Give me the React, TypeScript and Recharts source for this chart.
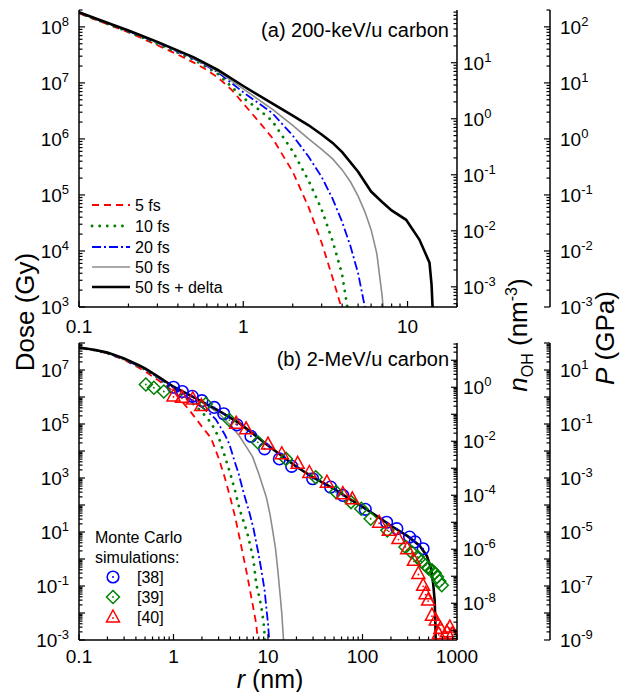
import React from 'react';
import { ComposedChart, Line, Scatter, XAxis, YAxis } from 'recharts';

const FONT = '"Liberation Sans", Arial, Helvetica, sans-serif';

type P = [number, number];

// ---------- conversion factors for the secondary axes ----------
const K_OH = Math.pow(10, -6.36); // n_OH (nm^-3) per Gy
const K_P = 1e-6; // GPa per Gy

// ---------- panel (a): 200-keV/u carbon ----------
const A_X_DOMAIN: [number, number] = [0.1, 20];
const A_Y_DOMAIN: [number, number] = [1e3, 2e8];
const A_5FS: P[] = [[0.1,1.75e8],[0.15,1.1e8],[0.2,8e7],[0.3,4.7e7],[0.4,3.2e7],[0.5,2.3e7],[0.6,1.7e7],[0.7,1.25e7],[0.85,7.5e6],[1,4.3e6],[1.25,2e6],[1.5,1.05e6],[2,2.6e5],[2.5,6e4],[3,1.4e4],[3.5,3.3e3],[3.95,1e3],[4.2,4e2]];
const A_10FS: P[] = [[0.1,1.78e8],[0.15,1.12e8],[0.2,8.2e7],[0.3,5e7],[0.5,2.6e7],[0.7,1.45e7],[1,5.4e6],[1.25,3.3e6],[1.5,2.1e6],[2,6e5],[2.5,1.8e5],[3,5.5e4],[3.5,1.5e4],[4,3.8e3],[4.3,1e3],[4.5,4e2]];
const A_20FS: P[] = [[0.1,1.8e8],[0.2,8.4e7],[0.3,5.2e7],[0.5,2.7e7],[0.7,1.55e7],[1,6.8e6],[1.5,2.9e6],[2,1.15e6],[2.5,4.8e5],[3,2.1e5],[3.5,8.5e4],[4,3.3e4],[4.5,1.2e4],[5,4e3],[5.5,1e3],[5.8,4e2]];
const A_50FS: P[] = [[0.1,1.8e8],[0.2,8.5e7],[0.3,5.3e7],[0.5,2.75e7],[0.7,1.6e7],[1,7.8e6],[1.5,3.4e6],[2,1.75e6],[2.5,1e6],[3,6.5e5],[3.5,4.4e5],[4,2.8e5],[4.5,1.7e5],[5,9.5e4],[5.5,5e4],[6,2.4e4],[6.5,9e3],[7,1.6e3],[7.1,1e3],[7.3,4e2]];
const A_DELTA: P[] = [[0.1,1.82e8],[0.15,1.17e8],[0.2,8.6e7],[0.3,5.4e7],[0.5,2.85e7],[0.7,1.7e7],[1,8.8e6],[1.5,4.3e6],[2,2.6e6],[2.5,1.75e6],[3,1.2e6],[3.5,8.5e5],[4,5.8e5],[5,2.6e5],[6,1.15e5],[7,7.5e4],[8,5.3e4],[9.8,3.6e4],[11.8,1.6e4],[13.6,6.2e3],[14,2.5e3],[14.2,1e3],[14.3,4e2]];

// ---------- panel (b): 2-MeV/u carbon ----------
const B_X_DOMAIN: [number, number] = [0.1, 1000];
const B_Y_DOMAIN: [number, number] = [1e-3, 1e8];
const B_5FS: P[] = [[0.1,6.7e7],[0.15,5.3e7],[0.2,4.1e7],[0.3,2.4e7],[0.5,9e6],[0.7,4e6],[1,1.6e6],[1.5,3e5],[2,8e4],[2.5,3e4],[3,5.5e3],[3.5,1e3],[4,1.8e2],[4.5,35],[5,6],[6,0.27],[7,0.015],[7.5,4e-3],[7.8,1e-3],[8.1,2e-4]];
const B_10FS: P[] = [[0.1,6.8e7],[0.15,5.3e7],[0.2,4.2e7],[0.3,2.5e7],[0.5,1.05e7],[0.7,4.8e6],[1,2e6],[1.5,7e5],[2,2.8e5],[2.5,1.1e5],[3,3.3e4],[3.5,6.3e3],[4,1.4e3],[4.5,3.2e2],[5,70],[6,10],[7,1],[7.5,0.12],[8,0.045],[8.5,0.017],[9,4e-3],[9.3,1e-3],[9.6,2e-4]];
const B_20FS: P[] = [[0.1,6.8e7],[0.15,5.3e7],[0.2,4.2e7],[0.3,2.5e7],[0.5,1.08e7],[0.7,5e6],[1,2.2e6],[1.5,8.5e5],[2,4.2e5],[2.5,2.2e5],[2.8,1.5e5],[3.5,4e4],[3.9,1.8e4],[4.5,3.5e3],[4.9,1.4e3],[5.5,3e2],[6.4,48],[7,14],[7.8,2.1],[8.5,0.4],[9.2,0.07],[10,4e-3],[10.3,1e-3],[10.6,2e-4]];
const B_50FS: P[] = [[0.1,6.8e7],[0.15,5.4e7],[0.2,4.3e7],[0.3,2.6e7],[0.5,1.1e7],[0.7,5.4e6],[1,2.4e6],[1.5,1.1e6],[2.2,5.5e5],[3,2.5e5],[4.2,7.6e4],[5,3.5e4],[6,1.3e4],[6.9,5.9e3],[8,1.4e3],[9.6,195],[10.5,45],[11.2,11.5],[12,2.5],[12.7,0.38],[13.5,0.04],[14,9.5e-3],[14.6,1e-3],[15,2e-4]];
const B_DELTA: P[] = [[0.1,6.8e7],[0.15,5.5e7],[0.2,4.4e7],[0.3,2.7e7],[0.44,1.44e7],[0.5,1.15e7],[0.7,5.5e6],[1,2.4e6],[1.5,1.15e6],[2,6.8e5],[3,3.1e5],[5,1.05e5],[7,4.3e4],[10,1.6e4],[15,5.5e3],[20,2.6e3],[30,1.05e3],[50,4e2],[70,1.85e2],[100,85],[150,34],[200,17],[300,7],[400,3.2],[480,1.3],[530,0.45],[560,0.12],[580,0.03],[592,3e-3],[598,1e-4]];
const MC_38: P[] = [[1,2.3e6],[1.24,1.6e6],[1.58,1.06e6],[2,7.3e5],[2.7,4.1e5],[3.4,2.4e5],[4.7,9.3e4],[6.6,3.5e4],[9.2,1.2e4],[13.2,5.1e3],[17.8,2.7e3],[29.7,940],[46,460],[62,226],[107,69],[180,23],[231,13.3],[315,6.5],[360,4.3],[438,2.4]];
const MC_39: P[] = [[0.51,2.9e6],[0.62,2.2e6],[0.79,1.6e6],[2.2,5.5e5],[3.9,1.4e5],[7.8,2.1e4],[15.5,5.1e3],[32,1.07e3],[52.6,300],[75.6,128],[97,73],[122,31],[183,11.5],[285,2.8],[330,1.8],[383,1.2],[420,0.8],[465,0.59],[500,0.45],[543,0.38],[580,0.3],[614,0.22],[650,0.15],[690,0.107]];
const MC_40: P[] = [[1,1.1e6],[1.23,9.7e5],[1.6,8.5e5],[1.97,4.8e5],[4.6,1.07e5],[5.87,6.6e4],[10,1.8e4],[14,7.9e3],[20.6,3.5e3],[27.4,1.6e3],[42,700],[62,263],[78,170],[150,23],[190,11.5],[240,5.7],[297,2.4],[350,0.89],[390,0.29],[438,0.106],[465,0.052],[495,0.03],[543,8.3e-3],[596,5.5e-3],[640,1.7e-3],[668,2.7e-3],[780,2e-3],[840,3e-3],[890,1.7e-3]];

// ---------- labels ----------
const A_TITLE = '(a) 200-keV/u carbon';
const B_TITLE = '(b) 2-MeV/u carbon';
const A_LEGEND = ['5 fs', '10 fs', '20 fs', '50 fs', '50 fs + delta'];
const B_LEGEND_HEAD = ['Monte Carlo', 'simulations:'];
const B_LEGEND = ['[38]', '[39]', '[40]'];

const A_DOSE_LABEL_EXPS = [3, 4, 5, 6, 7, 8];
const A_NOH_LABEL_EXPS = [-3, -2, -1, 0, 1];
const A_P_LABEL_EXPS = [-3, -2, -1, 0, 1, 2];
const B_DOSE_LABEL_EXPS = [-3, -1, 1, 3, 5, 7];
const B_NOH_LABEL_EXPS = [-8, -6, -4, -2, 0];
const B_P_LABEL_EXPS = [-9, -7, -5, -3, -1, 1];
const A_X_LABELS = [0.1, 1, 10];
const B_X_LABELS = [0.1, 1, 10, 100, 1000];

// ---------- styles ----------
const RED = '#FF0000';
const GREEN = '#008000';
const BLUE = '#0000FF';
const GRAY = '#8C8C8C';
const BLACK = '#000000';
const STYLES = [
  { stroke: RED, strokeWidth: 1.8, strokeDasharray: '7 5' },
  { stroke: GREEN, strokeWidth: 2.8, strokeDasharray: '0.1 7.5', strokeLinecap: 'round' as const },
  { stroke: BLUE, strokeWidth: 1.8, strokeDasharray: '9 3 2 3' },
  { stroke: GRAY, strokeWidth: 1.6 },
  { stroke: BLACK, strokeWidth: 2.6 },
];

const toPts = (a: P[]) => a.map(([x, y]) => ({ x, y }));

function logTicks(lo: number, hi: number): number[] {
  const out: number[] = [];
  const e0 = Math.floor(Math.log10(lo) + 1e-9);
  const e1 = Math.ceil(Math.log10(hi) - 1e-9);
  for (let e = e0; e <= e1; e++) {
    for (let m = 1; m <= 9; m++) {
      const v = parseFloat((m * Math.pow(10, e)).toPrecision(6));
      if (v >= lo * (1 - 1e-9) && v <= hi * (1 + 1e-9)) out.push(v);
    }
  }
  return out;
}
const isDecade = (v: number) => {
  const l = Math.log10(v);
  return Math.abs(l - Math.round(l)) < 1e-6;
};

type Side = 'left' | 'right' | 'bottom' | 'top';
function makeTick(side: Side, labels: number[], gap: number, plain = false) {
  return (props: any) => {
    const { x, y, payload } = props;
    const v = Number(payload.value);
    const major = isDecade(v);
    const L = major ? 6 : 3.5;
    let x2 = x, y2 = y;
    if (side === 'left') x2 = x + L;
    else if (side === 'right') x2 = x - L;
    else if (side === 'bottom') y2 = y - L;
    else y2 = y + L;
    let label: React.ReactNode = null;
    const e = Math.round(Math.log10(v));
    if (major) {
      if (plain && labels.some((l) => Math.abs(l - v) < 1e-9)) {
        label = (
          <text x={x} y={y + gap} textAnchor="middle" fontSize={19} fontFamily={FONT} fill="#000">
            {v < 1 ? v.toString() : String(Math.round(v))}
          </text>
        );
      } else if (!plain && labels.includes(e)) {
        const anchor = side === 'left' ? 'end' : 'start';
        const tx = side === 'left' ? x - gap : x + gap;
        label = (
          <text x={tx} y={y + 7} textAnchor={anchor} fontSize={19} fontFamily={FONT} fill="#000">
            10<tspan dy={-8} fontSize={13}>{String(e)}</tspan>
          </text>
        );
      }
    }
    return (
      <g>
        <line x1={x} y1={y} x2={x2} y2={y2} stroke="#000" strokeWidth={1.2} />
        {label}
      </g>
    );
  };
}

const AXIS_LINE = { stroke: '#000', strokeWidth: 1.5 };

const Circle38 = (p: any) => (
  <g>
    <circle cx={p.cx} cy={p.cy} r={5.8} fill="none" stroke={BLUE} strokeWidth={1.6} />
    <circle cx={p.cx} cy={p.cy} r={1} fill={BLUE} />
  </g>
);
const Diamond39 = (p: any) => (
  <g>
    <path d={`M${p.cx},${p.cy - 6.5} L${p.cx + 6.5},${p.cy} L${p.cx},${p.cy + 6.5} L${p.cx - 6.5},${p.cy} Z`} fill="none" stroke={GREEN} strokeWidth={1.5} />
    <circle cx={p.cx} cy={p.cy} r={0.9} fill={GREEN} />
  </g>
);
const Tri40 = (p: any) => (
  <g>
    <path d={`M${p.cx},${p.cy - 7} L${p.cx + 6.5},${p.cy + 5} L${p.cx - 6.5},${p.cy + 5} Z`} fill="none" stroke={RED} strokeWidth={1.5} />
    <circle cx={p.cx} cy={p.cy + 1} r={0.9} fill={RED} />
  </g>
);

function Panel(props: {
  height: number; top: number; bottom: number; xDomain: [number, number]; yDomain: [number, number];
  xLabels: number[]; doseExps: number[]; nExps: number[]; pExps: number[]; series: P[][]; children?: React.ReactNode;
  xGap: number;
}) {
  const { xDomain, yDomain } = props;
  const xt = logTicks(xDomain[0], xDomain[1]);
  const nDom: [number, number] = [yDomain[0] * K_OH, yDomain[1] * K_OH];
  const pDom: [number, number] = [yDomain[0] * K_P, yDomain[1] * K_P];
  const common = { type: 'number' as const, scale: 'log' as const, allowDataOverflow: true, interval: 0 as const, tickSize: 0, tickMargin: 0, tickLine: false, axisLine: AXIS_LINE };
  return (
    <ComposedChart width={621} height={props.height} margin={{ top: props.top, right: 1, bottom: 0, left: 0 }}>
      <XAxis xAxisId="x" dataKey="x" {...common} domain={xDomain} ticks={xt} height={props.bottom} tick={makeTick('bottom', props.xLabels, props.xGap, true)} />
      <XAxis xAxisId="t" orientation="top" {...common} domain={xDomain} ticks={xt} height={0} tick={makeTick('top', [], 0, true)} />
      <YAxis yAxisId="d" dataKey="y" {...common} domain={yDomain} ticks={logTicks(yDomain[0], yDomain[1])} width={79} tick={makeTick('left', props.doseExps, 10)} />
      <YAxis yAxisId="n" orientation="right" {...common} domain={nDom} ticks={logTicks(nDom[0], nDom[1])} width={93} tick={makeTick('right', props.nExps, 6)} />
      <YAxis yAxisId="p" orientation="right" {...common} domain={pDom} ticks={logTicks(pDom[0], pDom[1])} width={70} tick={makeTick('right', props.pExps, 10)} />
      {props.series.map((s, i) => (
        <Line key={i} xAxisId="x" yAxisId="d" data={toPts(s)} dataKey="y" type="linear" dot={false} activeDot={false} isAnimationActive={false} fill="none" {...STYLES[i]} />
      ))}
      {props.children}
    </ComposedChart>
  );
}

export default function App() {
  const legendRowsA = [205, 226, 247, 267, 287];
  const legendRowsB = [577, 597, 617];
  const shapes = [Circle38, Diamond39, Tri40];
  return (
    <div style={{ position: 'absolute', left: 0, top: 0, width: 621, height: 692, background: '#fff' }}>
      <div style={{ position: 'absolute', left: 0, top: 0 }}>
        <Panel height={340} top={10} bottom={33} xDomain={A_X_DOMAIN} yDomain={A_Y_DOMAIN} xLabels={A_X_LABELS}
          doseExps={A_DOSE_LABEL_EXPS} nExps={A_NOH_LABEL_EXPS} pExps={A_P_LABEL_EXPS}
          series={[A_5FS, A_10FS, A_20FS, A_50FS, A_DELTA]} xGap={26} />
      </div>
      <div style={{ position: 'absolute', left: 0, top: 330 }}>
        <Panel height={362} top={13} bottom={52} xDomain={B_X_DOMAIN} yDomain={B_Y_DOMAIN} xLabels={B_X_LABELS}
          doseExps={B_DOSE_LABEL_EXPS} nExps={B_NOH_LABEL_EXPS} pExps={B_P_LABEL_EXPS}
          series={[B_5FS, B_10FS, B_20FS, B_50FS, B_DELTA]} xGap={23}>
          <Scatter xAxisId="x" yAxisId="d" data={toPts(MC_38)} dataKey="y" shape={Circle38} isAnimationActive={false} />
          <Scatter xAxisId="x" yAxisId="d" data={toPts(MC_39)} dataKey="y" shape={Diamond39} isAnimationActive={false} />
          <Scatter xAxisId="x" yAxisId="d" data={toPts(MC_40)} dataKey="y" shape={Tri40} isAnimationActive={false} />
        </Panel>
      </div>
      <svg width={621} height={692} style={{ position: 'absolute', left: 0, top: 0, pointerEvents: 'none' }} fontFamily={FONT}>
        <text x={449} y={36.5} textAnchor="end" fontSize={20}>{A_TITLE}</text>
        <text x={449} y={366} textAnchor="end" fontSize={20}>{B_TITLE}</text>
        {A_LEGEND.map((t, i) => (
          <g key={t}>
            <line x1={92} x2={130} y1={legendRowsA[i]} y2={legendRowsA[i]} {...STYLES[i]} />
            <text x={135} y={legendRowsA[i] + 6} fontSize={16}>{t}</text>
          </g>
        ))}
        <text x={95} y={543} fontSize={16}>{B_LEGEND_HEAD[0]}</text>
        <text x={95} y={563} fontSize={16}>{B_LEGEND_HEAD[1]}</text>
        {B_LEGEND.map((t, i) => {
          const S = shapes[i];
          return (
            <g key={t}>
              <S cx={113} cy={legendRowsB[i]} />
              <text x={137} y={legendRowsB[i] + 6} fontSize={16}>{t}</text>
            </g>
          );
        })}
        <text transform="translate(34,312) rotate(-90)" textAnchor="middle" fontSize={26}>Dose (Gy)</text>
        <text transform="translate(527,335) rotate(-90)" textAnchor="middle" fontSize={26}>
          <tspan fontStyle="italic">n</tspan>
          <tspan fontSize={16} dy={6}>OH</tspan>
          <tspan dy={-6}> (nm</tspan>
          <tspan fontSize={16} dy={-10}>-3</tspan>
          <tspan dy={10}>)</tspan>
        </text>
        <text transform="translate(614,338) rotate(-90)" textAnchor="middle" fontSize={26}>
          <tspan fontStyle="italic">P</tspan> (GPa)
        </text>
        <text x={270} y={688} textAnchor="middle" fontSize={25}>
          <tspan fontStyle="italic">r</tspan> (nm)
        </text>
      </svg>
    </div>
  );
}
